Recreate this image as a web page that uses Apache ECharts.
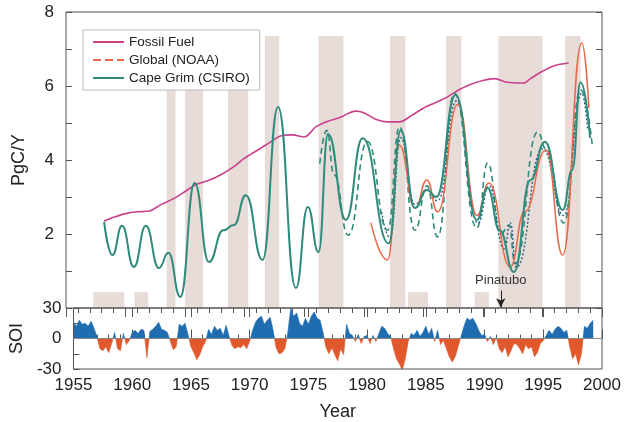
<!DOCTYPE html>
<html><head><meta charset="utf-8">
<script src="https://cdn.jsdelivr.net/npm/echarts@6/dist/echarts.min.js"></script>
<style>html,body{margin:0;padding:0;background:#fff}#c{width:630px;height:422px}</style>
</head><body><div id="c"></div>
<script>
// ---- data ----
const fossilFuel = [[1958.2,2.35],[1959,2.45],[1960,2.55],[1961,2.6],[1962,2.62],[1963,2.8],[1964,2.95],[1965,3.15],[1966,3.35],[1967,3.45],[1968,3.6],[1969,3.8],[1970,4.05],[1971,4.25],[1972,4.45],[1973,4.65],[1974,4.68],[1975,4.62],[1976,4.9],[1977,5.05],[1978,5.15],[1979.3,5.32],[1980,5.28],[1981,5.1],[1982,5.03],[1983,5.03],[1984,5.2],[1985,5.4],[1986,5.55],[1987,5.7],[1988,5.9],[1989,6.05],[1990,6.15],[1991,6.2],[1992,6.1],[1993.4,6.08],[1994,6.2],[1995,6.4],[1996,6.55],[1997.2,6.62]];
const globalNOAA = [[1980.6,2.3],[1982.0,1.3],[1983.0,4.4],[1984.3,2.7],[1985.3,3.46],[1986.2,2.6],[1987.9,5.5],[1989.5,2.5],[1990.5,3.38],[1992.3,1.11],[1993.5,2.6],[1995.3,4.27],[1996.7,1.43],[1998.3,7.16],[1998.9,5.4]];
const capeGrim = [[1958.2,2.33],[1958.9,1.43],[1959.7,2.22],[1960.7,1.11],[1961.7,2.22],[1962.8,1.08],[1963.6,1.49],[1964.6,0.30],[1965.8,3.38],[1967.0,1.24],[1968.2,2.1],[1969.1,2.24],[1970.1,3.05],[1971.5,1.3],[1972.8,5.43],[1974.3,0.54],[1975.3,2.73],[1976.2,1.51],[1977.0,4.7],[1978.5,2.38],[1979.9,4.59],[1982.1,1.75],[1983.1,4.8],[1984.3,2.7],[1985.3,3.19],[1986.1,3.0],[1987.7,5.76],[1989.5,2.38],[1990.4,3.24],[1991.4,2.1],[1992.6,0.97],[1994.0,3.46],[1995.2,4.49],[1996.7,2.65],[1997.5,3.73],[1998.2,6.1],[1999.0,4.6]];
const capeGrimFlask = [[1976.3,3.9],[1976.9,4.8],[1977.5,3.6],[1978.7,1.97],[1980.3,4.5],[1982.0,2.1],[1983.0,4.9],[1984.3,2.1],[1985.3,3.3],[1986.2,1.92],[1987.6,5.8],[1989.5,2.16],[1990.4,3.92],[1991.5,2.0],[1992.2,2.24],[1992.7,1.2],[1994.6,4.76],[1995.3,4.3],[1996.8,2.3],[1998.2,5.9],[1999.2,4.35]];
const capeGrimInSitu = [[1981.5,2.6],[1982.2,1.9],[1983.1,4.6],[1984.3,2.8],[1985.3,3.2],[1986.2,2.9],[1987.8,5.6],[1989.6,2.3],[1990.5,3.3],[1991.8,1.6],[1992.3,2.3],[1992.8,1.1],[1995.0,4.3],[1996.8,2.5],[1998.3,5.8],[1998.8,4.8]];
// El Nino periods (tall shading) and short boxes: [start, end]
const elNinoPeriods = [[1963.45,1964.2],[1965.0,1966.5],[1968.6,1970.3],[1971.7,1972.9],[1976.2,1978.3],[1982.2,1983.5],[1986.9,1988.2],[1991.3,1995.0],[1996.9,1998.2]];
const shortPeriods = [[1957.3,1959.9],[1960.75,1961.9],[1983.7,1985.4],[1989.3,1990.5]];
const tallTop = 7.35, shortTop = 0.43;
const pinatuboYear = 1991.5;
// SOI, quarterly from 1955.0
const soiStart = 1955.0;
const soi = [
16,12,18,14, 15,12,17,10, 2,-10,-12,-8, -14,-5,6,-10, -12,5,-6,-2,
6,8,5,9, 8,-19,7,9, 12,16,9,8, 6,-3,-11,-8, 14,12,15,4,
-8,-14,-21,-16, -8,-3,9,4, 12,8,10,3, 13,2,-7,-10, -8,-9,-6,-10,
-3,8,16,20, 22,14,18,21, 8,-9,-15,-14, -10,6,30,22, 25,15,12,20,
14,22,26,20, 18,6,-9,-15, -9,-16,-22,-10, -16,14,5,3, -3,4,-5,2,
3,-5,3,-3, 5,12,10,5, 2,-10,-20,-25, -31,-20,-3,5, 3,8,2,6,
12,4,10,-3, 8,-6,-2,-10, -18,-23,-18,-8, 2,12,20,18, 20,15,8,3,
4,-3,2,-6, 1,-10,-14,-8, -18,-12,-5,-6, -10,-15,-6,-10, -8,-18,-14,-5,
-2,3,8,4, 9,12,10,6, 8,-8,-20,-15, -26,-15,12,10, 15,18];
const xTickLabels = [1955,1960,1965,1970,1975,1980,1985,1990,1995,2000];

// ---- chart ----
const FONT = 'Liberation Sans, Arial, sans-serif';
const soiData = soi.map((v,i)=>[soiStart + i*0.25, v]);
const shadeData = elNinoPeriods.map(p=>[p[0],p[1],tallTop]).concat(shortPeriods.map(p=>[p[0],p[1],shortTop]));
const teal = '#2f8b7b', orange = '#e8694a', magenta = '#c8418a';

const chart = echarts.init(document.getElementById('c'), null, {renderer:'canvas'});
chart.setOption({
  animation:false,
  backgroundColor:'#fff',
  textStyle:{fontFamily:FONT},
  grid:[
    {left:66, right:28, top:12, height:296, show:true, borderColor:'#555', borderWidth:1, backgroundColor:'transparent', z:5},
    {left:66, right:28, top:308, height:61, show:true, borderColor:'#555', borderWidth:1, backgroundColor:'transparent', z:5}
  ],
  legend:{
    orient:'vertical', left:83, top:30, backgroundColor:'#fff', borderColor:'#bbb', borderWidth:1,
    padding:[5,10,5,9], itemWidth:31, itemHeight:10, itemGap:4,
    itemStyle:{opacity:0},
    textStyle:{fontFamily:'Liberation Sans Narrow, Liberation Sans, Arial', fontSize:13.5, color:'#222'},
    data:[
      {name:'Fossil Fuel'},
      {name:'Global (NOAA)', lineStyle:{type:'dashed'}},
      {name:'Cape Grim (CSIRO)'}
    ]
  },
  xAxis:[
    {gridIndex:0, type:'value', position:'top', min:1955, max:2000, interval:5,
     axisLine:{show:false}, axisLabel:{show:false}, splitLine:{show:false},
     axisTick:{inside:true, length:9, lineStyle:{color:'#555'}},
     minorTick:{show:true, splitNumber:5, length:5, lineStyle:{color:'#555'}}},
    {gridIndex:1, type:'value', position:'bottom', min:1955, max:2000, interval:5,
     axisLine:{show:false}, splitLine:{show:false},
     axisTick:{inside:true, length:9, lineStyle:{color:'#555'}},
     minorTick:{show:true, splitNumber:5, length:4, lineStyle:{color:'#555'}},
     axisLabel:{fontSize:17, color:'#222', margin:8, formatter:v=>xTickLabels.includes(v)?String(v):''},
     name:'Year', nameLocation:'middle', nameGap:34, nameTextStyle:{fontSize:18, color:'#222'}},
    {gridIndex:1, type:'value', position:'top', min:1955, max:2000, interval:5,
     axisLine:{show:false}, axisLabel:{show:false}, splitLine:{show:false},
     axisTick:{inside:true, length:9, lineStyle:{color:'#555'}}}
  ],
  yAxis:[
    {gridIndex:0, type:'value', position:'left', min:0, max:8, interval:1,
     axisLine:{show:false}, splitLine:{show:false},
     axisTick:{inside:true, length:6, lineStyle:{color:'#555'}},
     axisLabel:{fontSize:17, color:'#222', margin:12, showMaxLabel:true, formatter:v=>(v>0 && v%2===0)?String(v):''},
     name:'PgC/Y', nameLocation:'middle', nameGap:38, nameTextStyle:{fontSize:18, color:'#222'}},
    {gridIndex:0, type:'value', position:'right', min:0, max:8, interval:1,
     axisLine:{show:false}, splitLine:{show:false}, axisLabel:{show:false},
     axisTick:{inside:true, length:6, lineStyle:{color:'#555'}}},
    {gridIndex:1, type:'value', position:'left', min:-30, max:30, interval:15,
     axisLine:{show:false}, splitLine:{show:false},
     axisTick:{inside:true, length:6, lineStyle:{color:'#555'}},
     axisLabel:{fontSize:17, color:'#222', margin:12, showMinLabel:true, showMaxLabel:true, formatter:v=>(v%30===0)?String(v):''},
     name:'SOI', nameLocation:'middle', nameGap:38, nameTextStyle:{fontSize:18, color:'#222'}}
  ],
  visualMap:{type:'piecewise', show:false, seriesIndex:6, dimension:1,
    pieces:[{gt:0, lte:100, color:'#1f6db0'},{gte:-100, lte:0, color:'#e0582b'}],
    outOfRange:{color:'#999'}},
  series:[
    {name:'shade', type:'custom', xAxisIndex:0, yAxisIndex:0, data:shadeData, silent:true, z:0,
     encode:{x:[0,1], y:2},
     renderItem:(params, api)=>{
       const p0 = api.coord([api.value(0), api.value(2)]);
       const p1 = api.coord([api.value(1), 0]);
       return {type:'rect', shape:{x:p0[0], y:p0[1], width:p1[0]-p0[0], height:p1[1]-p0[1]}, style:{fill:'#e8dcd9'}};
     }},
    {name:'Fossil Fuel', type:'line', xAxisIndex:0, yAxisIndex:0, data:fossilFuel, showSymbol:false, symbol:'none',
     smooth:0.3, lineStyle:{color:magenta, width:1.6}, itemStyle:{color:magenta}, z:3,
     markLine:{silent:true, symbol:['none','arrow'], symbolSize:[7,9], lineStyle:{color:'#222', width:1, type:'solid'},
       label:{show:true, position:'start', formatter:'Pinatubo', fontSize:13, color:'#333', distance:4},
       data:[[{coord:[pinatuboYear,0.47]},{coord:[pinatuboYear,0.02]}]]}},
    {name:'Cape Grim (flask)', type:'line', xAxisIndex:0, yAxisIndex:0, data:capeGrimFlask, showSymbol:false, symbol:'none',
     smooth:0.5, smoothMonotone:'x', lineStyle:{color:teal, width:1.6, type:[6,4]}, itemStyle:{color:teal}, z:3},
    {name:'Cape Grim (in situ)', type:'line', xAxisIndex:0, yAxisIndex:0, data:capeGrimInSitu, showSymbol:false, symbol:'none',
     smooth:0.5, smoothMonotone:'x', lineStyle:{color:'#2a5f86', width:1.4, type:[2,2]}, itemStyle:{color:'#2a5f86'}, z:3},
    {name:'Global (NOAA)', type:'line', xAxisIndex:0, yAxisIndex:0, data:globalNOAA, showSymbol:false, symbol:'none',
     smooth:0.5, smoothMonotone:'x', lineStyle:{color:orange, width:1.5}, itemStyle:{color:orange}, z:4},
    {name:'Cape Grim (CSIRO)', type:'line', xAxisIndex:0, yAxisIndex:0, data:capeGrim, showSymbol:false, symbol:'none',
     smooth:0.5, smoothMonotone:'x', lineStyle:{color:teal, width:2}, itemStyle:{color:teal}, z:4},
    {name:'SOI', type:'line', xAxisIndex:1, yAxisIndex:2, data:soiData, showSymbol:false, symbol:'none',
     lineStyle:{width:0.6}, areaStyle:{opacity:1}, z:3,
     markLine:{silent:true, symbol:'none', lineStyle:{color:'#888', width:1, type:'solid'}, label:{show:false}, data:[{yAxis:0}]}}
  ]
});
</script></body></html>
